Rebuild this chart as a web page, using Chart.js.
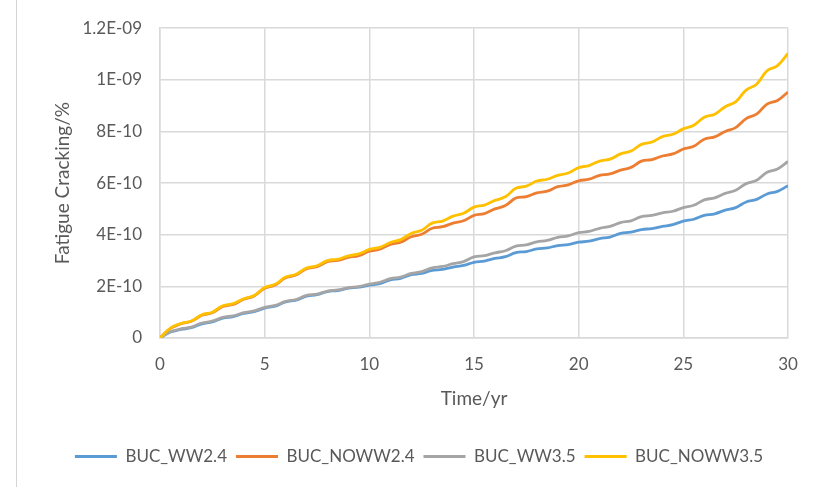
<!DOCTYPE html>
<html>
<head>
<meta charset="utf-8">
<script src="https://cdn.jsdelivr.net/npm/chart.js@4/dist/chart.umd.min.js"></script>
<style>
  html, body { margin: 0; padding: 0; background: #fff; }
  #wrap { position: relative; width: 818px; height: 487px; }
  #frame { position: absolute; left: 16px; top: 0; width: 1px; height: 487px; background: #d4d4d4; }
</style>
</head>
<body>
<div id="wrap">
  <div id="frame"></div>
  <canvas id="myChart" width="818" height="487"></canvas>
</div>
<script>
'use strict';

// time in years (half year steps)
var years = [0, 0.5, 1, 1.5, 2, 2.5, 3, 3.5, 4, 4.5, 5, 5.5, 6, 6.5, 7, 7.5, 8, 8.5, 9, 9.5,
  10, 10.5, 11, 11.5, 12, 12.5, 13, 13.5, 14, 14.5, 15, 15.5, 16, 16.5, 17, 17.5, 18, 18.5, 19, 19.5,
  20, 20.5, 21, 21.5, 22, 22.5, 23, 23.5, 24, 24.5, 25, 25.5, 26, 26.5, 27, 27.5, 28, 28.5, 29, 29.5, 30];

// fatigue cracking, in units of 1E-10 %
var bucWW24 = [0, 0.23, 0.33, 0.40, 0.55, 0.62, 0.77, 0.83, 0.95, 1.02, 1.16, 1.23, 1.40, 1.47, 1.62, 1.68, 1.80, 1.84, 1.93, 1.97,
  2.05, 2.11, 2.25, 2.31, 2.45, 2.50, 2.62, 2.66, 2.75, 2.81, 2.93, 2.98, 3.08, 3.15, 3.31, 3.35, 3.45, 3.49, 3.58, 3.62,
  3.71, 3.75, 3.85, 3.91, 4.05, 4.10, 4.20, 4.24, 4.32, 4.39, 4.53, 4.60, 4.75, 4.81, 4.95, 5.05, 5.27, 5.37, 5.58, 5.68, 5.90];
var bucNOWW24 = [0, 0.37, 0.55, 0.65, 0.88, 0.98, 1.22, 1.30, 1.50, 1.63, 1.93, 2.05, 2.33, 2.44, 2.68, 2.76, 2.96, 3.01, 3.12, 3.19,
  3.36, 3.44, 3.62, 3.71, 3.92, 4.02, 4.25, 4.31, 4.45, 4.54, 4.75, 4.82, 5.00, 5.13, 5.42, 5.48, 5.62, 5.69, 5.86, 5.93,
  6.09, 6.15, 6.30, 6.36, 6.50, 6.61, 6.85, 6.91, 7.05, 7.13, 7.32, 7.43, 7.70, 7.79, 8.00, 8.15, 8.50, 8.67, 9.06, 9.20, 9.53];
var bucWW35 = [0, 0.24, 0.35, 0.42, 0.58, 0.65, 0.80, 0.86, 0.98, 1.05, 1.19, 1.26, 1.42, 1.49, 1.65, 1.70, 1.82, 1.86, 1.95, 1.99,
  2.09, 2.16, 2.30, 2.36, 2.50, 2.57, 2.72, 2.77, 2.88, 2.96, 3.14, 3.19, 3.30, 3.38, 3.56, 3.61, 3.72, 3.78, 3.90, 3.96,
  4.08, 4.13, 4.25, 4.32, 4.47, 4.54, 4.70, 4.75, 4.85, 4.91, 5.05, 5.14, 5.35, 5.43, 5.60, 5.72, 5.98, 6.11, 6.42, 6.55, 6.84];
var bucNOWW35 = [0, 0.38, 0.56, 0.66, 0.90, 1.00, 1.25, 1.33, 1.52, 1.65, 1.96, 2.08, 2.36, 2.47, 2.71, 2.80, 3.00, 3.05, 3.18, 3.26,
  3.43, 3.51, 3.70, 3.81, 4.05, 4.17, 4.45, 4.53, 4.72, 4.83, 5.07, 5.15, 5.33, 5.47, 5.80, 5.88, 6.08, 6.15, 6.30, 6.39,
  6.60, 6.68, 6.85, 6.93, 7.13, 7.24, 7.50, 7.59, 7.80, 7.89, 8.10, 8.24, 8.55, 8.67, 8.96, 9.15, 9.60, 9.83, 10.35, 10.55, 11.02];
var unit = 1e-10;

var seriesNames = ['BUC_WW2.4', 'BUC_NOWW2.4', 'BUC_WW3.5', 'BUC_NOWW3.5'];
var seriesColors = ['#5B9BD5', '#ED7D31', '#A5A5A5', '#FFC000'];
var seriesValues = [bucWW24, bucNOWW24, bucWW35, bucNOWW35];

var yTickLabels = ['0', '2E-10', '4E-10', '6E-10', '8E-10', '1E-09', '1.2E-09'];
var xTickLabels = ['0', '5', '10', '15', '20', '25', '30'];

var textColor = '#595959';
var gridColor = '#d9d9d9';
var fontName = 'Lato';

function makePoints(vals) {
    var pts = [];
    for (var i = 0; i < years.length; i++) {
        pts.push({ x: years[i], y: vals[i] * unit });
    }
    return pts;
}

var datasets = [];
for (var i = 0; i < seriesNames.length; i++) {
    datasets.push({
        label: seriesNames[i],
        data: makePoints(seriesValues[i]),
        borderColor: seriesColors[i],
        backgroundColor: seriesColors[i],
        borderWidth: 2.8,
        pointRadius: 0,
        tension: 0.4,
        fill: false,
        order: seriesNames.length - i // later series on top, like excel
    });
}

var ctx = document.getElementById('myChart').getContext('2d');
var chart = new Chart(ctx, {
    type: 'line',
    data: { datasets: datasets },
    options: {
        responsive: false,
        animation: false,
        // left padding pushes the legend centre to the right, like the original
        layout: { padding: { top: 26, right: 30, left: 50, bottom: 12 } },
        plugins: {
            tooltip: { enabled: false },
            legend: {
                position: 'bottom',
                labels: {
                    color: textColor,
                    font: { family: fontName, size: 17 },
                    boxWidth: 42,
                    boxHeight: 3,
                    padding: 9,
                    sort: function (a, b) { return a.datasetIndex - b.datasetIndex; },
                    generateLabels: function (chart) {
                        var items = Chart.defaults.plugins.legend.labels.generateLabels(chart);
                        items.forEach(function (it) { it.lineWidth = 0; });
                        return items;
                    }
                }
            }
        },
        scales: {
            x: {
                type: 'linear',
                min: 0,
                max: 30,
                afterFit: function (scale) { scale.height = 101; },
                ticks: {
                    stepSize: 5,
                    color: textColor,
                    font: { family: fontName, size: 17 },
                    padding: 16,
                    maxRotation: 0,
                    callback: function (v) { return xTickLabels[v / 5]; }
                },
                grid: { color: gridColor, lineWidth: 1.5, drawTicks: false },
                border: { color: gridColor, width: 1.5 },
                title: {
                    display: true,
                    text: 'Time/yr',
                    color: textColor,
                    font: { family: fontName, size: 19 },
                    padding: { top: 8, bottom: 29 }
                }
            },
            y: {
                min: 0,
                max: 1.2e-9,
                afterFit: function (scale) { scale.width = 110; },
                ticks: {
                    stepSize: 2e-10,
                    color: textColor,
                    font: { family: fontName, size: 17 },
                    padding: 18,
                    callback: function (v) { return yTickLabels[Math.round(v / 2e-10)]; }
                },
                grid: { color: gridColor, lineWidth: 1.5, drawTicks: false },
                border: { color: gridColor, width: 1.5 },
                title: {
                    display: true,
                    text: 'Fatigue Cracking/%',
                    color: textColor,
                    font: { family: fontName, size: 19 },
                    padding: { top: 1 }
                }
            }
        }
    }
});
</script>
</body>
</html>
